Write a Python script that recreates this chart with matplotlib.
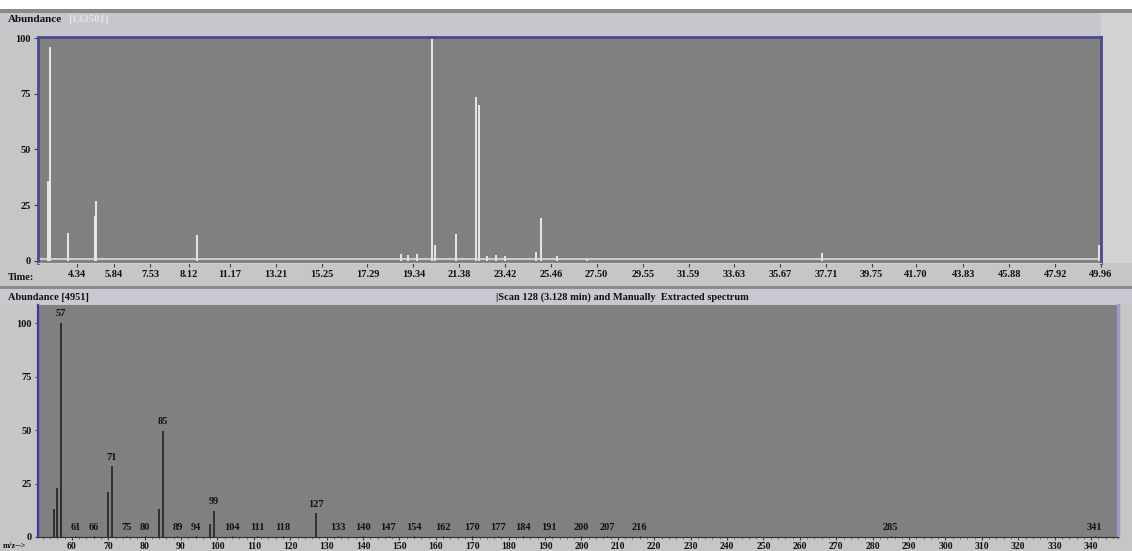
import matplotlib
matplotlib.use("Agg")
import matplotlib.pyplot as plt
from matplotlib.patches import Rectangle

W, H = 1132, 551

# TIC chromatogram peaks: retention time (min) and relative abundance
tic_times = [3.07, 3.15, 3.96, 5.18, 5.22, 9.70, 18.8, 19.1, 19.5, 20.17, 20.3,
             21.24, 22.13, 22.26, 22.6, 23.0, 23.4, 24.8, 25.02, 25.74, 27.07,
             37.54, 49.88]
tic_heights = [36, 96, 12.5, 20, 27, 11.5, 3, 2.5, 3, 100, 7,
               12, 73.5, 70, 2, 2.5, 2, 4, 19, 2, 1,
               3.5, 7]

time_tick_vals = [4.36, 6.01, 7.61, 9.35, 11.17, 13.21, 15.25, 17.29, 19.34,
                  21.38, 23.42, 25.46, 27.50, 29.55, 31.59, 33.63, 35.67,
                  37.71, 39.75, 41.70, 43.83, 45.88, 47.92, 49.96]
time_tick_labels = ["4.34", "5.84", "7.53", "8.12", "11.17", "13.21", "15.25",
                    "17.29", "19.34", "21.38", "23.42", "25.46", "27.50",
                    "29.55", "31.59", "33.63", "35.67", "37.71", "39.75",
                    "41.70", "43.83", "45.88", "47.92", "49.96"]

# mass spectrum (scan 128): main fragment ions
ms_mz = [55, 56, 57, 70, 71, 84, 85, 98, 99, 127]
ms_ab = [13, 23, 100, 21, 33, 13, 49.5, 6, 12, 11]
ms_labeled = [57, 71, 85, 99, 127]

# small labelled ions along the baseline
minor_mz = [61, 66, 75, 80, 89, 94, 104, 111, 118, 133, 140, 147, 154, 162,
            170, 177, 184, 191, 200, 207, 216, 285, 341]
minor_ab = [0.4] * len(minor_mz)

mz_ticks = list(range(60, 341, 10))

font = dict(family="Liberation Serif", weight="bold")
plt.rcParams["font.family"] = "Liberation Serif"
plt.rcParams["font.weight"] = "bold"

fig = plt.figure(figsize=(W / 100, H / 100), dpi=100)
fig.patch.set_facecolor("#c6c6c6")


def fx(x):
    return x / W


def fy(y):
    return 1 - y / H


def band(x0, y0, x1, y1, color):
    fig.add_artist(Rectangle((fx(x0), fy(y1)), fx(x1) - fx(x0), fy(y0) - fy(y1),
                             transform=fig.transFigure, facecolor=color,
                             edgecolor="none", zorder=-5))


# window chrome
band(0, 0, W, 9, "white")
band(0, 9, W, 13, "#8a8a8a")
band(0, 13, W, 37, "#c6c6cc")
band(1101, 13, W, 263, "#d2d2d2")
band(0, 286, W, 289, "#8c8c8c")
band(0, 289, W, 305, "#c8c8d0")

# ---------------- top: chromatogram ----------------
ax1 = fig.add_axes([fx(38), fy(263), fx(1101) - fx(38), fy(37) - fy(263)])
ax1.set_facecolor("#808080")
ax1.vlines(tic_times, 0, tic_heights, color="#efefef", lw=1.3)
ax1.axhline(0.6, color="#dcdcdc", lw=1.2)
ax1.set_xlim(2.62, 49.96)
ax1.set_ylim(-1, 100.5)
ax1.set_yticks([0, 25, 50, 75, 100])
ax1.set_xticks(time_tick_vals)
ax1.set_xticklabels(time_tick_labels)
ax1.tick_params(axis="both", labelsize=7.5, length=3, width=0.8, pad=2,
                color="#404040", labelcolor="#111111")
for s in ["left", "top", "right"]:
    ax1.spines[s].set_color("#4a4a8e")
    ax1.spines[s].set_linewidth(2)
ax1.spines["bottom"].set_color("#d0d0d0")

# ---------------- bottom: mass spectrum ----------------
ax2 = fig.add_axes([fx(38), fy(537), fx(1118) - fx(38), fy(305) - fy(537)])
ax2.set_facecolor("#808080")
ax2.vlines(ms_mz, 0, ms_ab, color="#1a1a1a", lw=1.1)
ax2.vlines(minor_mz, 0, minor_ab, color="#1a1a1a", lw=0.8)
for m, a in zip(ms_mz, ms_ab):
    if m in ms_labeled:
        ax2.text(m, a + 2.3, str(m), ha="center", va="bottom", fontsize=7.5,
                 color="#111111", **font)
for m, a in zip(minor_mz, minor_ab):
    ax2.text(m, a + 2.0, str(m), ha="center", va="bottom", fontsize=7.5,
             color="#111111", **font)
ax2.set_xlim(50.7, 347.4)
ax2.set_ylim(0, 108.5)
ax2.set_yticks([0, 25, 50, 75, 100])
ax2.set_xticks(mz_ticks)
ax2.set_xticks(range(52, 347, 2), minor=True)
ax2.tick_params(axis="both", labelsize=7, length=2.5, width=0.8, pad=1,
                color="#404040", labelcolor="#111111")
ax2.tick_params(axis="y", labelsize=7.5, pad=2)
ax2.tick_params(axis="x", which="minor", length=1.5, width=0.5, color="#505050")
ax2.spines["left"].set_color("#3c3ca0")
ax2.spines["left"].set_linewidth(1.6)
ax2.spines["right"].set_color("#9a9ac8")
ax2.spines["right"].set_linewidth(2.5)
ax2.spines["top"].set_visible(False)
ax2.spines["bottom"].set_color("#303030")

# header texts
fig.text(fx(8), fy(20), "Abundance", fontsize=8, va="center", ha="left",
         color="#111111", **font)
fig.text(fx(68), fy(20), "[133501]", fontsize=8, va="center", ha="left",
         color="#e6e6e6", **font)
fig.text(fx(8), fy(278), "Time:", fontsize=7.5, va="center", ha="left",
         color="#111111", **font)
fig.text(fx(8), fy(297), "Abundance [4951]", fontsize=7.5, va="center",
         ha="left", color="#111111", **font)
fig.text(fx(622), fy(297), "|Scan 128 (3.128 min) and Manually  Extracted spectrum",
         fontsize=7.5, va="center", ha="center", color="#111111", **font)
fig.text(fx(3), fy(546), "m/z-->", fontsize=6, va="center", ha="left",
         color="#111111", **font)

fig.savefig("out.png", dpi=100, facecolor=fig.get_facecolor())
